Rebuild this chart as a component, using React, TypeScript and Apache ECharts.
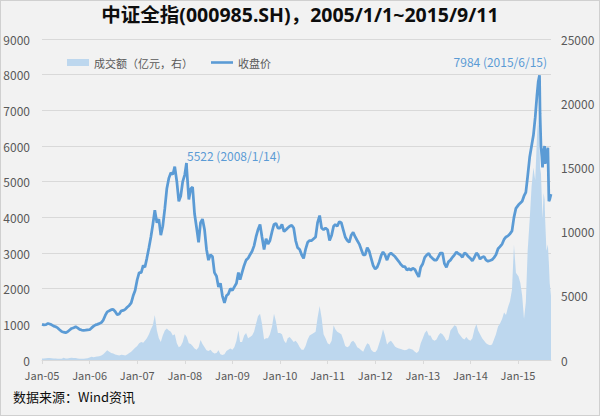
import React, { useEffect, useRef } from "react";
import * as echarts from "echarts";

// ---------- data ----------
const titleText = "中证全指(000985.SH)，2005/1/1~2015/9/11";
const volumeName = "成交额（亿元，右）";
const priceName = "收盘价";
const sourceText = "数据来源：Wind资讯";

const yearTicks = [2005, 2006, 2007, 2008, 2009, 2010, 2011, 2012, 2013, 2014, 2015];
const gridYears = [2005, 2006, 2007, 2008, 2009, 2010, 2011, 2012, 2013, 2014];
const endDate = "2015-09-11";

// half-month closes (1st and 16th of each month)
const price2005 = [1000, 985, 990, 1025, 1010, 985, 950, 930, 900, 850, 800, 780, 765, 790, 840, 885, 905, 930, 900, 860, 840, 830, 835, 845];
const price2006 = [850, 900, 950, 985, 1000, 1020, 1050, 1120, 1250, 1350, 1380, 1410, 1420, 1360, 1270, 1290, 1380, 1390, 1420, 1480, 1530, 1600, 1800, 1950];
const price2007 = [2250, 2450, 2450, 2650, 2600, 2850, 3150, 3450, 3800, 4200, 3850, 3950, 3500, 3750, 4250, 4800, 5100, 5250, 5200, 5420, 5000, 4450, 4600, 5000];
const price2008 = [5200, 5350, 4500, 4800, 4850, 4100, 3700, 3300, 3850, 3950, 3650, 3100, 2800, 2950, 2900, 2450, 2350, 2050, 2150, 1800, 1600, 1800, 1850, 2000];
const price2009 = [1950, 2050, 2150, 2450, 2250, 2450, 2650, 2800, 2850, 2950, 3050, 3200, 3450, 3650, 3800, 3450, 3100, 3400, 3250, 3350, 3600, 3800, 3830, 3700];
const price2010 = [3700, 3800, 3600, 3650, 3700, 3750, 3780, 3700, 3350, 3150, 3100, 2950, 2850, 3100, 3300, 3350, 3350, 3400, 3450, 3850, 4050, 3700, 3650, 3700];
const price2011 = [3650, 3350, 3500, 3750, 3800, 3750, 3880, 3850, 3650, 3450, 3350, 3300, 3500, 3580, 3450, 3350, 3250, 3100, 2950, 2950, 3150, 3050, 2850, 2650];
const price2012 = [2550, 2600, 2750, 2930, 3030, 2950, 2800, 2950, 3000, 2950, 2900, 2830, 2760, 2680, 2620, 2620, 2520, 2560, 2520, 2570, 2540, 2430, 2330, 2600];
const price2013 = [2700, 2880, 2950, 2990, 2900, 2850, 2800, 2800, 2900, 3000, 3000, 2700, 2600, 2750, 2800, 2880, 2950, 3030, 2980, 2950, 2880, 3000, 2970, 2900];
const price2014 = [2850, 2780, 2880, 3000, 2950, 2830, 2880, 2900, 2800, 2770, 2790, 2810, 2870, 2950, 3120, 3180, 3250, 3380, 3450, 3480, 3540, 3620, 4000, 4250];

// half-month turnover (亿元)
const volume2005 = [120, 110, 130, 160, 150, 130, 120, 110, 100, 90, 100, 180, 120, 110, 150, 170, 160, 150, 120, 100, 90, 100, 110, 140];
const volume2006 = [200, 260, 220, 250, 280, 300, 350, 450, 600, 750, 650, 550, 500, 420, 380, 350, 400, 380, 350, 420, 550, 650, 800, 950];
const volume2007 = [1100, 1300, 1400, 1350, 1500, 1700, 2000, 2400, 2700, 3500, 2300, 1700, 1400, 1900, 2300, 2450, 2300, 2200, 1900, 2000, 1300, 1000, 1100, 1400];
const volume2008 = [2000, 1800, 1300, 1250, 1100, 900, 800, 1000, 1550, 1250, 1000, 750, 700, 800, 600, 500, 550, 750, 450, 380, 450, 700, 800, 900];
const volume2009 = [800, 1000, 1500, 2300, 1400, 1400, 1900, 2100, 1700, 1800, 1900, 2200, 2800, 3400, 3600, 2800, 1600, 1700, 1700, 2000, 2600, 3600, 3000, 2100];
const volume2010 = [2100, 2000, 1500, 1300, 1700, 1800, 1600, 1400, 1500, 1300, 1000, 800, 800, 1100, 1600, 1900, 2000, 2100, 2200, 3300, 4200, 3300, 2000, 1700];
const volume2011 = [1300, 1200, 1500, 2700, 2400, 2200, 2100, 2000, 1600, 1100, 1000, 1100, 1400, 1500, 1300, 1000, 900, 750, 650, 1000, 1300, 1200, 800, 650];
const volume2012 = [600, 800, 1300, 1800, 2400, 1900, 1200, 1400, 1500, 1300, 1050, 950, 900, 850, 800, 750, 800, 900, 850, 800, 650, 550, 700, 1300];
const volume2013 = [1700, 2100, 2300, 1900, 1900, 1600, 1500, 1600, 1900, 2100, 2000, 1800, 1500, 1600, 2300, 2500, 2700, 2600, 2100, 1900, 1700, 1600, 1800, 1600];
const volume2014 = [1500, 1700, 2400, 2800, 2300, 2000, 1700, 1500, 1300, 1200, 1150, 1200, 1600, 2000, 2600, 2850, 3200, 3700, 3500, 4100, 4600, 5500, 9000, 6800];

// 2015 at finer, explicit dates
const dates2015 = ["2015-01-05", "2015-01-19", "2015-02-02", "2015-02-16", "2015-03-02", "2015-03-16", "2015-04-01", "2015-04-15", "2015-04-29", "2015-05-13", "2015-05-27", "2015-06-05", "2015-06-15", "2015-06-19", "2015-06-26", "2015-07-03", "2015-07-08", "2015-07-16", "2015-07-24", "2015-07-28", "2015-08-07", "2015-08-18", "2015-08-26", "2015-09-01", "2015-09-11"];
const price2015 = [4350, 4400, 4450, 4600, 4700, 5150, 5700, 6000, 6300, 6800, 7450, 7800, 7984, 6900, 6000, 5700, 5400, 5850, 6000, 5500, 5750, 5950, 4450, 4500, 4650];
const volume2015 = [6500, 6000, 5000, 3200, 4500, 8500, 11000, 13500, 15000, 14000, 17500, 19000, 17000, 15000, 14500, 12500, 11000, 13000, 12500, 11000, 8500, 9000, 7500, 6000, 5000];

// annotated peaks
const peakDates = ["2008-01-14", "2015-06-15"];
const peakValues = [5522, 7984];

const leftAxisMax = 9000;
const leftAxisStep = 1000;
const rightAxisMax = 25000;
const rightAxisStep = 5000;

// ---------- helpers ----------
const priceByYear = [price2005, price2006, price2007, price2008, price2009, price2010, price2011, price2012, price2013, price2014];
const volumeByYear = [volume2005, volume2006, volume2007, volume2008, volume2009, volume2010, volume2011, volume2012, volume2013, volume2014];

function toYear(s: string): number {
  const [y, m, d] = s.split("-").map(Number);
  const start = Date.UTC(y, 0, 1);
  const end = Date.UTC(y + 1, 0, 1);
  return y + (Date.UTC(y, m - 1, d) - start) / (end - start);
}

function halfMonthDates(year: number): string[] {
  const out: string[] = [];
  for (let m = 1; m <= 12; m++) {
    const mm = String(m).padStart(2, "0");
    out.push(`${year}-${mm}-01`, `${year}-${mm}-16`);
  }
  return out;
}

function buildPairs(byYear: number[][], last: number[], extraDates: string[], extraValues: number[]) {
  const pairs: [string, number][] = [];
  gridYears.forEach((y, k) => {
    const ds = halfMonthDates(y);
    byYear[k].forEach((v, i) => pairs.push([ds[i], v]));
  });
  dates2015.forEach((d, i) => pairs.push([d, last[i]]));
  extraDates.forEach((d, i) => {
    if (!pairs.some((p) => p[0] === d)) pairs.push([d, extraValues[i]]);
  });
  pairs.sort((a, b) => (a[0] < b[0] ? -1 : a[0] > b[0] ? 1 : 0));
  return pairs.map(([d, v]) => [toYear(d), v]);
}

const priceData = buildPairs(priceByYear, price2015, peakDates, peakValues);
const volumeData = buildPairs(volumeByYear, volume2015, [], []);

const peakLabel = (i: number) => `${peakValues[i]} (${peakDates[i].replace(/-0?/g, "/")})`;

const CJK = "'Noto Sans CJK SC', 'Noto Sans', sans-serif";
const BLUE = "#5B9BD5";
const LIGHT = "#BDD7EE";
const GRID = "#D9D9D9";
const LABEL = "#595959";

const option: any = {
  animation: false,
  backgroundColor: "transparent",
  textStyle: { fontFamily: CJK },
  title: {
    text: titleText,
    left: "center",
    top: 4,
    padding: 0,
    textStyle: {
      fontFamily: "'Noto Sans', 'Noto Sans CJK SC', sans-serif",
      fontSize: 19.5,
      fontWeight: "bold",
      color: "#0D0D0D",
      lineHeight: 20,
    },
  },
  legend: {
    left: 62,
    top: 52,
    itemWidth: 22,
    itemHeight: 7,
    itemGap: 18,
    textStyle: { fontFamily: CJK, fontSize: 11, color: LABEL },
    data: [
      { name: volumeName, icon: "rect" },
      { name: priceName, icon: "path://M0,0H22V2.6H0Z" },
    ],
  },
  grid: { left: 42, right: 49, top: 39, bottom: 56 },
  xAxis: {
    type: "value",
    min: yearTicks[0],
    max: toYear(endDate),
    splitLine: { show: false },
    axisLine: { show: true, lineStyle: { color: GRID, width: 1 } },
    axisTick: { show: true, length: 4, customValues: yearTicks, lineStyle: { color: GRID } },
    axisLabel: {
      customValues: yearTicks,
      formatter: (v: number) => "Jan-" + String(Math.round(v)).slice(2),
      color: LABEL,
      fontSize: 11,
      lineHeight: 11,
      fontFamily: CJK,
      margin: 9,
    },
  },
  yAxis: [
    {
      type: "value",
      min: 0,
      max: leftAxisMax,
      interval: leftAxisStep,
      axisLine: { show: false },
      axisTick: { show: false },
      axisLabel: { color: LABEL, fontSize: 12, lineHeight: 12, fontFamily: CJK, margin: 12, formatter: (v: number) => String(v) },
      splitLine: { show: true, lineStyle: { color: GRID, width: 1 } },
    },
    {
      type: "value",
      min: 0,
      max: rightAxisMax,
      interval: rightAxisStep,
      axisLine: { show: false },
      axisTick: { show: false },
      axisLabel: { color: LABEL, fontSize: 12, lineHeight: 12, fontFamily: CJK, margin: 10, formatter: (v: number) => String(v) },
      splitLine: { show: false },
    },
  ],
  series: [
    {
      name: volumeName,
      type: "line",
      yAxisIndex: 1,
      data: volumeData,
      color: LIGHT,
      symbol: "none",
      showSymbol: false,
      lineStyle: { width: 0, color: LIGHT },
      areaStyle: { color: LIGHT, opacity: 1 },
      itemStyle: { color: LIGHT },
      z: 1,
    },
    {
      name: priceName,
      type: "line",
      yAxisIndex: 0,
      data: priceData,
      color: BLUE,
      symbol: "none",
      showSymbol: false,
      lineStyle: { width: 2.75, color: BLUE },
      itemStyle: { color: BLUE },
      z: 3,
      markPoint: {
        symbol: "circle",
        symbolSize: 1,
        itemStyle: { color: "rgba(0,0,0,0)" },
        data: [
          {
            coord: [toYear(peakDates[0]), peakValues[0]],
            label: {
              show: true,
              formatter: peakLabel(0),
              position: [0, 0],
              align: "left",
              verticalAlign: "bottom",
              offset: [1, -1],
              color: BLUE,
              fontSize: 12,
              fontFamily: CJK,
            },
          },
          {
            coord: [toYear(peakDates[1]), peakValues[1]],
            label: {
              show: true,
              formatter: peakLabel(1),
              position: [0, 0],
              align: "right",
              verticalAlign: "bottom",
              offset: [8, -7],
              color: BLUE,
              fontSize: 12,
              fontFamily: CJK,
            },
          },
        ],
      },
    },
  ],
  graphic: [
    {
      type: "text",
      left: 13,
      top: 390,
      style: { text: sourceText, fontSize: 13, fontFamily: CJK, fill: "#0D0D0D" },
    },
  ],
};

export default function App() {
  const ref = useRef<HTMLDivElement>(null);
  useEffect(() => {
    if (!ref.current) return;
    const chart = echarts.init(ref.current, null, { renderer: "svg" });
    chart.setOption(option);
    return () => chart.dispose();
  }, []);
  return (
    <div
      style={{
        position: "fixed",
        left: 0,
        top: 0,
        width: 600,
        height: 416,
        boxSizing: "border-box",
        border: "1px solid #D0D0D0",
        background: "#F2F2F2",
      }}
    >
      <div ref={ref} style={{ position: "absolute", left: -1, top: -1, width: 600, height: 416 }} />
    </div>
  );
}
